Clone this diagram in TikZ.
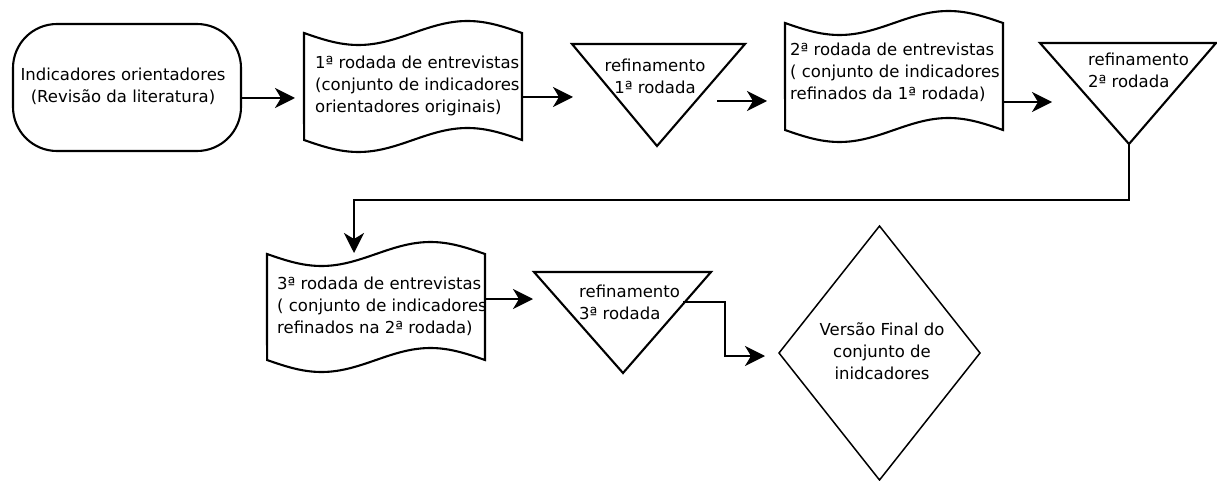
\documentclass[tikz,border=0pt]{standalone}
\usepackage{fontspec}
\setmainfont{DejaVu Sans}
\usetikzlibrary{arrows.meta}
\newcommand\tapeshape[4]{%
  \draw[shp] plot[domain=0:1,samples=61] ({#1+\x*(#2-#1)},{#3+12*sin(360*\x)})
    -- plot[domain=1:0,samples=61] ({#1+\x*(#2-#1)},{#4+12*sin(360*\x)}) -- cycle;}
\begin{document}
\begin{tikzpicture}[x=1pt,y=-1pt,
  shp/.style={draw=black,line width=2.1pt,line join=miter},
  lbl/.style={font=\fontsize{16.5}{22}\selectfont,inner sep=0pt,text=black},
  conn/.style={line width=2.3pt},
  arr/.style={conn,-{Stealth[length=20pt,width=20pt,inset=6pt]}}]
\useasboundingbox (0,0) rectangle (1217,481);
% shapes
\draw[shp,rounded corners=44pt] (13,24) rectangle (241,151);
\tapeshape{304}{522}{33}{140}
\draw[shp] (572,44) -- (745,44) -- (657,146) -- cycle;
\tapeshape{785}{1003}{23}{130}
\draw[shp] (1040,43) -- (1216,43) -- (1129,144) -- cycle;
\tapeshape{267}{485}{254}{360}
\draw[shp] (534,272) -- (711,272) -- (623,373) -- cycle;
\draw[shp,line width=1.5pt] (879.5,226) -- (980,353) -- (879.5,480) -- (779,353) -- cycle;
% texts
\node[lbl,align=center] (t0) at (123,86) {Indicadores orientadores\\(Revisão da literatura)};
\node[lbl,align=left,anchor=west] (d1) at (315,85.5) {1ª rodada de entrevistas\\(conjunto de indicadores\\orientadores originais)};
\node[lbl,align=center] (r1) at (655,76) {refinamento\\1ª rodada};
\node[lbl,align=left,anchor=west] (d2) at (790,72) {2ª rodada de entrevistas\\( conjunto de indicadores\\refinados da 1ª rodada)};
\node[lbl,align=left,anchor=west] (r2) at (1088,70) {refinamento\\2ª rodada};
\node[lbl,align=left,anchor=west] (d3) at (277,306) {3ª rodada de entrevistas\\( conjunto de indicadores\\refinados na 2ª rodada)};
\node[lbl,align=left,anchor=west] (r3) at (579,302) {refinamento\\3ª rodada};
\node[lbl,align=center] (fv) at (882,351) {Versão Final do\\conjunto de\\inidcadores};
% connector ends
\coordinate (t0out) at (241,98);   \coordinate (d1in) at (295,98);
\coordinate (d1out) at (522,97);   \coordinate (r1in) at (573,97);
\coordinate (r1out) at (717,101);  \coordinate (d2in) at (767,101);
\coordinate (d2out) at (1003,102); \coordinate (r2in) at (1052,102);
\coordinate (r2out) at (1129,144); \coordinate (d3in) at (354,253);
\coordinate (d3out) at (485,299);  \coordinate (r3in) at (533,299);
\coordinate (r3out) at (683,302);  \coordinate (fvin) at (765,356);
% connectors
\draw[arr] (t0out) -- (d1in);
\draw[arr] (d1out) -- (r1in);
\draw[arr] (r1out) -- (d2in);
\draw[arr] (d2out) -- (r2in);
\draw[arr] (r2out) |- (354,200) -- (d3in);
\draw[arr] (d3out) -- (r3in);
\draw[arr] (r3out) -- (725,302) |- (fvin);
\end{tikzpicture}
\end{document}
